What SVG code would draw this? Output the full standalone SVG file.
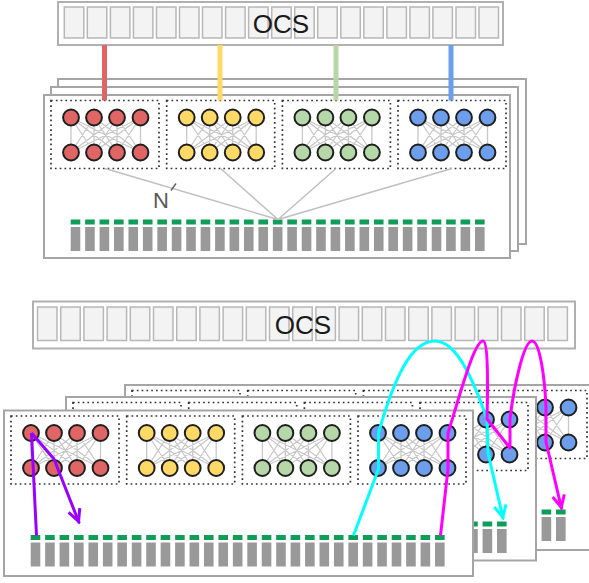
<svg xmlns="http://www.w3.org/2000/svg" xmlns:xlink="http://www.w3.org/1999/xlink" width="589" height="583" viewBox="0 0 589 583">
<style>
.frame{fill:#fff;stroke:#a5a5a5;stroke-width:2}
.ocs{fill:#fff;stroke:#b0b0b0;stroke-width:2}
.cell{fill:#f3f3f3;stroke:#b7b7b7;stroke-width:1.5}
.ocs-label{font-family:"Liberation Sans",Arial,sans-serif;font-size:26px;fill:#1a1a1a;text-anchor:middle}
.dot{fill:none;stroke:#333;stroke-width:1.7;stroke-dasharray:1.7 3.1}
.mesh{fill:none;stroke:#c8c8c8;stroke-width:1.3}
.node{stroke:#1f1f1f;stroke-width:2}
.pg{fill:#0f9d58}
.pp{fill:#999}
.uplink{stroke-width:5;fill:none}
.fan{stroke:#c0c0c0;stroke-width:1.5;fill:none}
.link{fill:none;stroke-width:3;stroke-linejoin:round;stroke-linecap:butt}
.n-label{font-family:"Liberation Sans",Arial,sans-serif;font-size:22px;fill:#595959}
</style>
<defs>
<marker id="ah-purple" viewBox="0 0 20 16" refX="17" refY="8" markerWidth="20" markerHeight="16" markerUnits="userSpaceOnUse" orient="auto"><path d="M3,2 L15,8 L3,14" fill="none" stroke="#9900ff" stroke-width="3"/></marker>
<marker id="ah-cyan" viewBox="0 0 20 16" refX="17" refY="8" markerWidth="20" markerHeight="16" markerUnits="userSpaceOnUse" orient="auto"><path d="M3,2 L15,8 L3,14" fill="none" stroke="#00ffff" stroke-width="3"/></marker>
<marker id="ah-magenta" viewBox="0 0 20 16" refX="17" refY="8" markerWidth="20" markerHeight="16" markerUnits="userSpaceOnUse" orient="auto"><path d="M3,2 L15,8 L3,14" fill="none" stroke="#ff00ff" stroke-width="3"/></marker>
<g id="cluster">
<path class="mesh" d="M20,17L20,52M20,17L43,52M20,17L66,52M20,17L89.5,52M43,17L20,52M43,17L43,52M43,17L66,52M43,17L89.5,52M66,17L20,52M66,17L43,52M66,17L66,52M66,17L89.5,52M89.5,17L20,52M89.5,17L43,52M89.5,17L66,52M89.5,17L89.5,52"/>
<circle class="node" cx="20" cy="17" r="7.9"/><circle class="node" cx="43" cy="17" r="7.9"/><circle class="node" cx="66" cy="17" r="7.9"/><circle class="node" cx="89.5" cy="17" r="7.9"/>
<circle class="node" cx="20" cy="52" r="7.9"/><circle class="node" cx="43" cy="52" r="7.9"/><circle class="node" cx="66" cy="52" r="7.9"/><circle class="node" cx="89.5" cy="52" r="7.9"/>
</g>
<g id="port"><rect class="pg" x="0" y="0" width="9.6" height="5"/><rect class="pp" x="0" y="7.5" width="9.6" height="24"/></g>
<g id="switch">
<use href="#port" x="0"/><use href="#port" x="14.44"/><use href="#port" x="28.88"/><use href="#port" x="43.32"/><use href="#port" x="57.76"/><use href="#port" x="72.2"/><use href="#port" x="86.64"/><use href="#port" x="101.08"/><use href="#port" x="115.52"/><use href="#port" x="129.96"/><use href="#port" x="144.4"/><use href="#port" x="158.84"/><use href="#port" x="173.28"/><use href="#port" x="187.72"/><use href="#port" x="202.16"/><use href="#port" x="216.6"/><use href="#port" x="231.04"/><use href="#port" x="245.48"/><use href="#port" x="259.92"/><use href="#port" x="274.36"/><use href="#port" x="288.8"/><use href="#port" x="303.24"/><use href="#port" x="317.68"/><use href="#port" x="332.12"/><use href="#port" x="346.56"/><use href="#port" x="361"/><use href="#port" x="375.44"/><use href="#port" x="389.88"/><use href="#port" x="404.32"/>
</g>
<g id="board-inner">
<rect class="dot" x="7" y="5.5" width="108" height="68"/>
<rect class="dot" x="122.7" y="5.5" width="108" height="68"/>
<rect class="dot" x="238.4" y="5.5" width="108" height="68"/>
<rect class="dot" x="354" y="5.5" width="108" height="68"/>
<use href="#cluster" x="7" y="5.5" fill="#e06666"/>
<use href="#cluster" x="122.7" y="5.5" fill="#ffd966"/>
<use href="#cluster" x="238.4" y="5.5" fill="#b6d7a8"/>
<use href="#cluster" x="354" y="5.5" fill="#6d9eeb"/>
<use href="#switch" x="26.7" y="124.5"/>
</g>
</defs>
<rect x="0" y="0" width="589" height="583" fill="#fff"/>

<g id="ocs-top">
<rect class="ocs" x="58" y="2" width="445" height="43"/>
<rect class="cell" x="64.3" y="7" width="19.5" height="31"/><rect class="cell" x="87.3" y="7" width="19.5" height="31"/><rect class="cell" x="110.4" y="7" width="19.5" height="31"/><rect class="cell" x="133.4" y="7" width="19.5" height="31"/><rect class="cell" x="156.5" y="7" width="19.5" height="31"/><rect class="cell" x="179.5" y="7" width="19.5" height="31"/><rect class="cell" x="202.5" y="7" width="19.5" height="31"/><rect class="cell" x="225.6" y="7" width="19.5" height="31"/><rect class="cell" x="248.6" y="7" width="19.5" height="31"/><rect class="cell" x="271.7" y="7" width="19.5" height="31"/><rect class="cell" x="294.7" y="7" width="19.5" height="31"/><rect class="cell" x="317.7" y="7" width="19.5" height="31"/><rect class="cell" x="340.8" y="7" width="19.5" height="31"/><rect class="cell" x="363.8" y="7" width="19.5" height="31"/><rect class="cell" x="386.9" y="7" width="19.5" height="31"/><rect class="cell" x="409.9" y="7" width="19.5" height="31"/><rect class="cell" x="432.9" y="7" width="19.5" height="31"/><rect class="cell" x="456" y="7" width="19.5" height="31"/><rect class="cell" x="479" y="7" width="19.5" height="31"/>
<text class="ocs-label" x="281" y="33">OCS</text>
</g>

<g id="top-board-back"><rect class="frame" x="58" y="79" width="468" height="165"/></g>
<g id="top-board-middle"><rect class="frame" x="51" y="87" width="467" height="164"/></g>
<g id="top-board-front">
<rect class="frame" x="44" y="95" width="466" height="163"/>
<use href="#board-inner" transform="translate(44,95)"/>
</g>

<g id="top-connectors">
<line class="uplink" x1="104.5" y1="45" x2="104.5" y2="100.5" stroke="#e06666"/>
<line class="uplink" x1="220" y1="45" x2="220" y2="100.5" stroke="#ffd966"/>
<line class="uplink" x1="336" y1="45" x2="336" y2="100.5" stroke="#b6d7a8"/>
<line class="uplink" x1="451" y1="45" x2="451" y2="100.5" stroke="#6d9eeb"/>
<path class="fan" d="M105,168.5L278,219.5M220.5,168.5L278,219.5M336,168.5L278,219.5M452,168.5L278,219.5"/>
<line x1="171" y1="190.5" x2="176" y2="183.5" stroke="#666" stroke-width="1.5"/>
<text class="n-label" x="153" y="208">N</text>
</g>

<g id="ocs-bottom">
<rect class="ocs" x="33" y="301.5" width="542" height="47"/>
<rect class="cell" x="37.5" y="307" width="19.5" height="33.5"/><rect class="cell" x="60.7" y="307" width="19.5" height="33.5"/><rect class="cell" x="83.9" y="307" width="19.5" height="33.5"/><rect class="cell" x="107.1" y="307" width="19.5" height="33.5"/><rect class="cell" x="130.3" y="307" width="19.5" height="33.5"/><rect class="cell" x="153.5" y="307" width="19.5" height="33.5"/><rect class="cell" x="176.7" y="307" width="19.5" height="33.5"/><rect class="cell" x="199.9" y="307" width="19.5" height="33.5"/><rect class="cell" x="223.1" y="307" width="19.5" height="33.5"/><rect class="cell" x="246.3" y="307" width="19.5" height="33.5"/><rect class="cell" x="269.5" y="307" width="19.5" height="33.5"/><rect class="cell" x="292.7" y="307" width="19.5" height="33.5"/><rect class="cell" x="315.9" y="307" width="19.5" height="33.5"/><rect class="cell" x="339.1" y="307" width="19.5" height="33.5"/><rect class="cell" x="362.3" y="307" width="19.5" height="33.5"/><rect class="cell" x="385.5" y="307" width="19.5" height="33.5"/><rect class="cell" x="408.7" y="307" width="19.5" height="33.5"/><rect class="cell" x="431.9" y="307" width="19.5" height="33.5"/><rect class="cell" x="455.1" y="307" width="19.5" height="33.5"/><rect class="cell" x="478.3" y="307" width="19.5" height="33.5"/><rect class="cell" x="501.5" y="307" width="19.5" height="33.5"/><rect class="cell" x="524.7" y="307" width="19.5" height="33.5"/><rect class="cell" x="547.9" y="307" width="19.5" height="33.5"/>
<text class="ocs-label" x="303" y="334">OCS</text>
</g>

<g id="bottom-board-back">
<rect class="frame" x="125" y="385" width="470" height="165"/>
<use href="#board-inner" transform="translate(125,385)"/>
</g>
<g id="bottom-board-middle">
<rect class="frame" x="66" y="397" width="470" height="163.5"/>
<use href="#board-inner" transform="translate(66,397)"/>
</g>
<g id="bottom-board-front">
<rect class="frame" x="4" y="410.5" width="469" height="165.5"/>
<use href="#board-inner" transform="translate(4,410.5)"/>
</g>

<g id="bottom-connectors">
<path class="link" stroke="#9900ff" d="M31.5,433 L36.5,535.5"/>
<path class="link" stroke="#9900ff" d="M31.5,433 L54,459 L79.3,523.3" marker-end="url(#ah-purple)"/>
<path class="link" stroke="#00ffff" d="M353.5,535.5 L378.5,469 L378.5,433 C395,375 412,341 435,341 C458,341 475,385 487,419 L488,453 L503.3,519.3" marker-end="url(#ah-cyan)"/>
<path class="link" stroke="#ff00ff" d="M440.5,535.5 L448,469 L448,433 C460,395 474,341 483,341 C488,341 488,380 487,419 L510,448 L510,419 C514,385 524,341 532,341 C540,341 545,380 546,408 L546,442 L561.7,509.3" marker-end="url(#ah-magenta)"/>
</g>
</svg>
